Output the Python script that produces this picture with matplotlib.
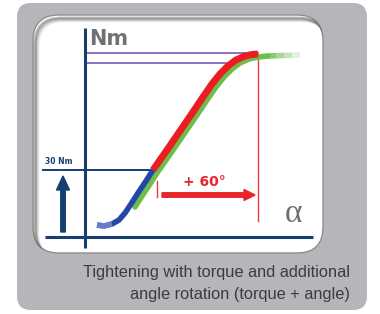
import matplotlib
import matplotlib.pyplot as plt
from matplotlib.patches import FancyBboxPatch, FancyArrow

matplotlib.use('Agg')

# ============================
# Dados da ilustração (coordenadas em pixels da figura)
# ============================

# trecho azul: aperto até o torque de 30 Nm
blue_x = [97, 104, 112, 119, 125, 131, 138, 146, 153]
blue_y = [225, 226, 224, 220, 213, 204, 193, 181, 170]

# trecho vermelho: rotação adicional de +60°
red_x = [153, 167, 180, 193, 203, 212, 220, 228, 236, 245, 252, 258]
red_y = [170, 150, 131, 112, 97, 84, 74, 66, 60, 56, 54.5, 54]

# curva verde (deslocada) que continua depois do ângulo final
green_x = [135, 142, 150, 157, 171, 184, 197, 207, 216, 224, 232, 240, 249, 258, 268]
green_y = [207, 196, 184, 173, 153, 134, 115, 100, 87, 77, 69, 63, 59, 57, 56]
green_tail_x = [268, 276, 284, 292, 300]
green_tail_y = [56, 55.7, 55.4, 55.2, 55]

torque_levels = [53, 63]       # linhas roxas (torque máximo)
torque_30nm = 170               # nível de 30 Nm
angle_start = 157               # início da rotação
angle_end = 258                 # fim da rotação (+60°)

caption = ["Tightening with torque and additional",
           "angle rotation (torque + angle)"]

NAVY = '#143f6e'

fig = plt.figure(figsize=(3.8, 3.14), dpi=100)
ax = fig.add_axes([0, 0, 1, 1])
ax.set_xlim(0, 380)
ax.set_ylim(314, 0)
ax.axis('off')

# moldura cinza
ax.add_patch(FancyBboxPatch((27, 13), 330, 287, boxstyle='round,pad=10,rounding_size=14',
                            fc='#b4b6b9', ec='none', zorder=0))

# área branca com sombra interna
white = FancyBboxPatch((55, 37), 246, 194, boxstyle='round,pad=22,rounding_size=26',
                       fc='white', ec='#8e8e8e', lw=1.0, zorder=1)
ax.add_patch(white)
for i, a in enumerate([0.35, 0.22, 0.14, 0.08]):
    sh = FancyBboxPatch((55 + 2 + i, 37 + 3 + i), 246, 194,
                        boxstyle='round,pad=22,rounding_size=26',
                        fc='none', ec='#404040', lw=2.0, alpha=a, zorder=1)
    ax.add_patch(sh)
    sh.set_clip_path(white)

# eixos
ax.plot([85, 85], [28, 248], color=NAVY, lw=2.2, zorder=3, solid_capstyle='butt')
ax.plot([45, 313], [236.5, 236.5], color=NAVY, lw=2.2, zorder=3, solid_capstyle='butt')
ax.text(89, 39, 'Nm', fontsize=15, fontweight='bold', color='#707174',
        va='center', ha='left', zorder=3)
ax.text(293, 214, 'α', fontsize=24, color='#6f7073', va='center', ha='center',
        family='Liberation Serif', zorder=3)

# linhas roxas
ax.plot([85, angle_end], [torque_levels[0]] * 2, color='#8c72c4', lw=1.4, zorder=2)
ax.plot([85, 226], [torque_levels[1]] * 2, color='#8c72c4', lw=1.4, zorder=2)

# linha de 30 Nm
ax.plot([43, 153], [torque_30nm] * 2, color=NAVY, lw=1.4, zorder=2)
ax.text(45, 162, '30 Nm', fontsize=5.5, fontweight='bold', color=NAVY,
        va='center', ha='left', zorder=3)
ax.add_patch(FancyArrow(63, 232, 0, -56, width=4.5, head_width=13, head_length=14,
                        length_includes_head=True, color=NAVY, zorder=3))

# linha vertical do ângulo final e marcação inicial
ax.plot([angle_end] * 2, [54, 221], color='#ee3b3b', lw=1.0, zorder=2)
ax.plot([angle_start] * 2, [181, 197], color='#ee3b3b', lw=1.0, zorder=2)
ax.add_patch(FancyArrow(162, 195, 93, 0, width=4.5, head_width=11, head_length=11,
                        length_includes_head=True, color='#e8262a', zorder=3))
ax.text(204, 182, '+ 60°', fontsize=10, fontweight='bold', color='#e8262a',
        va='center', ha='center', zorder=3)

# curvas
ax.plot(green_x, green_y, color='#6cc04a', lw=4, zorder=4,
        solid_capstyle='round', solid_joinstyle='round')
for i in range(len(green_tail_x) - 1):
    ax.plot(green_tail_x[i:i + 2], green_tail_y[i:i + 2], color='#6cc04a', lw=4,
            alpha=1 - (i + 1) / len(green_tail_x), zorder=4, solid_capstyle='butt')
ax.plot(red_x, red_y, color='#ec1c24', lw=5, zorder=5,
        solid_capstyle='butt', solid_joinstyle='round')
ax.plot(blue_x, blue_y, color='#2346a8', lw=4, zorder=5,
        solid_capstyle='butt', solid_joinstyle='round')
ax.plot(blue_x[:3], blue_y[:3], color='#8896d8', lw=4, alpha=0.7, zorder=6,
        solid_capstyle='butt')

# legenda
for k, line in enumerate(caption):
    ax.text(350, 273 + 22 * k, line, fontsize=11.8, color='#3c3c3c', ha='right',
            va='center', family=['Liberation Sans Narrow', 'Liberation Sans', 'DejaVu Sans'],
            zorder=3)

plt.savefig('out.png', dpi=100)
